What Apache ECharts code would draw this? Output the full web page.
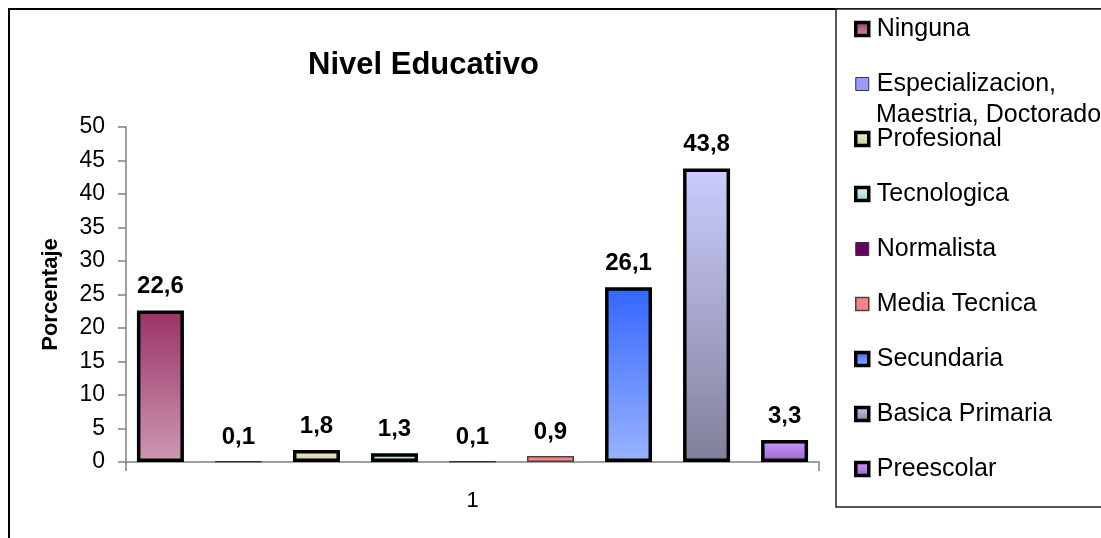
<!DOCTYPE html>
<html>
<head>
<meta charset="utf-8">
<title>Nivel Educativo</title>
<script src="https://cdn.jsdelivr.net/npm/echarts@6/dist/echarts.min.js"></script>
<style>
html, body { margin: 0; padding: 0; background: #fff; }
#chart { width: 1101px; height: 538px; }
</style>
</head>
<body>
<div id="chart"></div>
<script>
// datos del grafico
var categories = ['1'];
var seriesNames = ['Ninguna', 'Especializacion, Maestria, Doctorado', 'Profesional', 'Tecnologica',
	'Normalista', 'Media Tecnica', 'Secundaria', 'Basica Primaria', 'Preescolar'];
var seriesValues = [22.6, 0.1, 1.8, 1.3, 0.1, 0.9, 26.1, 43.8, 3.3];
var yMin = 0;
var yMax = 50;
var yStep = 5;

// estilos (degradado arriba -> abajo, borde)
var topColors = ['#993366', '#9999FF', '#F2F2CC', '#D6FFFF', '#660066', '#FF8080', '#3366FF', '#CCCCFF', '#CC99FF'];
var bottomColors = ['#CC99B3', '#9999FF', '#C8C8A0', '#99C8C8', '#660066', '#FF8080', '#99B3FF', '#808099', '#9966CC'];
var borderWidths = [3.5, 1, 3.5, 3.5, 1, 1.5, 3.5, 3.5, 3.5];
var borderColors = ['#000', '#333', '#000', '#000', '#333', '#444', '#000', '#000', '#000'];

var FONT = 'Liberation Sans, Arial, sans-serif';

function decimalComma(v) {
	return String(v).replace('.', ',');
}

function firstLine(name) {
	var i = name.indexOf(', ');
	return i > -1 ? name.slice(0, i + 1) : name;
}

function restLine(name) {
	var i = name.indexOf(', ');
	return i > -1 ? name.slice(i + 2) : '';
}

function buildSeries() {
	var list = [];
	for (var i = 0; i < seriesNames.length; i++) {
		list.push({
			name : seriesNames[i],
			type : 'bar',
			data : [seriesValues[i]],
			barWidth : 47,
			barGap : '66%',
			itemStyle : {
				color : new echarts.graphic.LinearGradient(0, 0, 0, 1, [
					{offset : 0, color : topColors[i]},
					{offset : 1, color : bottomColors[i]}
				]),
				borderColor : borderColors[i],
				borderWidth : borderWidths[i]
			},
			label : {
				show : true,
				position : 'top',
				distance : 12,
				fontFamily : FONT,
				fontSize : 24,
				fontWeight : 'bold',
				color : '#000',
				formatter : function(p) {
					return decimalComma(p.value);
				}
			}
		});
	}
	return list;
}

var wrapped = seriesNames[1];

var chart = echarts.init(document.getElementById('chart'), null, {renderer : 'canvas'});
chart.setOption({
	animation : false,
	backgroundColor : '#fff',
	title : {
		text : 'Nivel Educativo',
		left : 308,
		top : 50,
		padding : 0,
		textStyle : {fontFamily : FONT, fontSize : 31, fontWeight : 'bold', color : '#000'}
	},
	graphic : [
		{
			type : 'rect', z : -10,
			shape : {x : 9, y : 9, width : 1300, height : 700},
			style : {fill : 'none', stroke : '#000', lineWidth : 2}
		},
		{
			type : 'rect', z : -5,
			shape : {x : 836, y : 9, width : 400, height : 498},
			style : {fill : '#fff', stroke : '#222', lineWidth : 1.5}
		},
		{
			type : 'text', z : 10,
			left : 876, top : 103,
			style : {text : restLine(wrapped), font : '25px ' + FONT, fill : '#000'}
		}
	],
	legend : {
		orient : 'vertical',
		left : 849,
		top : 11,
		itemWidth : 13,
		itemHeight : 13,
		itemGap : 29,
		icon : 'rect',
		itemStyle : {borderWidth : 'inherit'},
		textStyle : {fontFamily : FONT, fontSize : 25, color : '#000', lineHeight : 26, padding : [0, 0, 0, 3]},
		formatter : function(name) {
			return firstLine(name);
		},
		data : seriesNames
	},
	grid : {left : 126, right : 282, top : 127, bottom : 76, containLabel : false},
	xAxis : {
		type : 'category',
		data : categories,
		axisLine : {lineStyle : {color : '#808080', width : 1.5}},
		axisTick : {show : true, length : 9, lineStyle : {color : '#808080', width : 1.5}},
		axisLabel : {fontFamily : FONT, fontSize : 22, color : '#000', margin : 28}
	},
	yAxis : {
		type : 'value',
		min : yMin,
		max : yMax,
		interval : yStep,
		name : 'Porcentaje',
		nameLocation : 'middle',
		nameRotate : 90,
		nameGap : 64,
		nameTextStyle : {fontFamily : FONT, fontSize : 22, fontWeight : 'bold', color : '#000'},
		splitLine : {show : false},
		axisLine : {show : true, lineStyle : {color : '#808080', width : 1.5}},
		axisTick : {show : true, length : 8, lineStyle : {color : '#808080', width : 1.5}},
		axisLabel : {fontFamily : FONT, fontSize : 23, color : '#000', margin : 21}
	},
	series : buildSeries()
});
</script>
</body>
</html>
